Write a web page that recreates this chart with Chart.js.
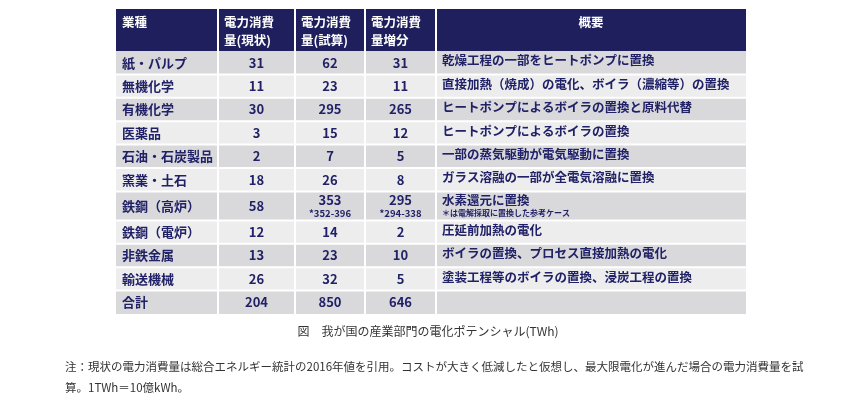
<!DOCTYPE html>
<html><head><meta charset="utf-8">
<script src="https://cdn.jsdelivr.net/npm/chart.js@4"></script>
<style>
body{margin:0;background:#fff;font-family:"Noto Sans CJK JP",sans-serif;}
#wrap{position:relative;width:856px;height:403px;}
.cap{position:absolute;font-size:12px;color:#333;}
</style></head><body>
<div id="wrap"><canvas id="c" width="856" height="403"></canvas>
<div class="cap" style="left:0;width:856px;text-align:center;top:322px;">図　我が国の産業部門の電化ポテンシャル(TWh)</div>
<div class="cap" style="left:65px;top:356px;width:740px;line-height:21px;font-size:11.5px;">注：現状の電力消費量は総合エネルギー統計の2016年値を引用。コストが大きく低減したと仮想し、最大限電化が進んだ場合の電力消費量を試算。1TWh＝10億kWh。</div>
</div>
<script>
const headers=[["業種"],["電力消費","量(現状)"],["電力消費","量(試算)"],["電力消費","量増分"],["概要"]];
const categories=["紙・パルプ","無機化学","有機化学","医薬品","石油・石炭製品","窯業・土石","鉄鋼（高炉）","鉄鋼（電炉）","非鉄金属","輸送機械","合計"];
const current=[31,11,30,3,2,18,58,12,13,26,204];
const estimate=[62,23,295,15,7,26,353,14,23,32,850];
const increase=[31,11,265,12,5,8,295,2,10,5,646];
const estimateRange=["","","","","","","*352-396","","","",""];
const increaseRange=["","","","","","","*294-338","","","",""];
const summary=["乾燥工程の一部をヒートポンプに置換","直接加熱（焼成）の電化、ボイラ（濃縮等）の置換","ヒートポンプによるボイラの置換と原料代替","ヒートポンプによるボイラの置換","一部の蒸気駆動が電気駆動に置換","ガラス溶融の一部が全電気溶融に置換","水素還元に置換","圧延前加熱の電化","ボイラの置換、プロセス直接加熱の電化","塗装工程等のボイラの置換、浸炭工程の置換",""];
const summaryNote=["","","","","","","＊は電解採取に置換した参考ケース","","","",""];

const colW=[102,77,70,71,310];
const colEdges=[0];colW.forEach(w=>colEdges.push(colEdges[colEdges.length-1]+w));
const headH=42,rowH=23.4,tallH=29;
const rowEdges=[0,headH];
categories.forEach((c,i)=>rowEdges.push(rowEdges[rowEdges.length-1]+(estimateRange[i]?tallH:rowH)));
const navy="#1e1f5c",txt="#202166";
const F='"Noto Sans CJK JP",sans-serif';

const tablePlugin={id:'table',afterDraw(ch){
 const {ctx}=ch,x=ch.scales.x,y=ch.scales.y;
 const X=v=>x.getPixelForValue(v),Y=v=>y.getPixelForValue(v);
 ctx.save();
 // header
 ctx.fillStyle=navy;ctx.fillRect(X(0),Y(0),X(colEdges[5])-X(0),Y(headH)-Y(0));
 ctx.fillStyle="#fff";ctx.textBaseline="middle";
 headers.forEach((h,i)=>{
  ctx.font="bold 12.5px "+F;
  const cx=i==4?(X(colEdges[4])+X(colEdges[5]))/2:X(colEdges[i])+6;
  ctx.textAlign=i==4?"center":"left";
  const y0=Y(0);
  if(h.length==1)ctx.fillText(h[0],cx,y0+13);
  else{ctx.fillText(h[0],cx,y0+13);ctx.fillText(h[1],cx,y0+31);}
 });
 categories.forEach((c,r)=>{
  const top=Y(rowEdges[r+1]),bot=Y(rowEdges[r+2]);
  ctx.fillStyle=r%2==0?"#d9d9dc":"#ededee";
  ctx.fillRect(X(0),top,X(colEdges[5])-X(0),bot-top);
  const tall=!!estimateRange[r];
  ctx.fillStyle=txt;ctx.font="bold 13px "+F;
  ctx.textAlign="left";ctx.fillText(c,X(0)+6,(top+bot)/2);
  [current,estimate,increase].forEach((arr,k)=>{
   const cx=(X(colEdges[k+1])+X(colEdges[k+2]))/2;
   ctx.textAlign="center";ctx.font="bold 13px "+F;
   const sub=k==1?estimateRange[r]:k==2?increaseRange[r]:"";
   if(sub){ctx.fillText(arr[r],cx,top+9);ctx.font="bold 9.5px "+F;ctx.fillText(sub,cx,top+22);}
   else ctx.fillText(arr[r],cx,(top+bot)/2);
  });
  ctx.textAlign="left";ctx.font="bold 12.5px "+F;
  const sx=X(colEdges[4])+6;
  if(tall){ctx.fillText(summary[r],sx,top+9);ctx.font="bold 8px "+F;ctx.fillText(summaryNote[r],sx,top+22);}
  else ctx.fillText(summary[r],sx,(top+bot)/2-2);
 });
 // grid lines
 ctx.strokeStyle="#fff";ctx.lineWidth=2;
 for(let i=1;i<5;i++){ctx.beginPath();ctx.moveTo(X(colEdges[i]),Y(0));ctx.lineTo(X(colEdges[i]),Y(rowEdges[rowEdges.length-1]));ctx.stroke();}
 for(let j=2;j<rowEdges.length-1;j++){ctx.beginPath();ctx.moveTo(X(0),Y(rowEdges[j]));ctx.lineTo(X(colEdges[5]),Y(rowEdges[j]));ctx.stroke();}
 ctx.restore();
}};

new Chart(document.getElementById('c'),{
 type:'scatter',
 data:{datasets:[{data:[]}]},
 options:{responsive:false,animation:false,
  layout:{padding:{left:116,right:110,top:9,bottom:89}},
  plugins:{legend:{display:false},tooltip:{enabled:false}},
  scales:{x:{type:'linear',min:0,max:colEdges[5],display:false},
          y:{type:'linear',min:0,max:rowEdges[rowEdges.length-1],reverse:true,display:false}}},
 plugins:[tablePlugin]
});
</script></body></html>
